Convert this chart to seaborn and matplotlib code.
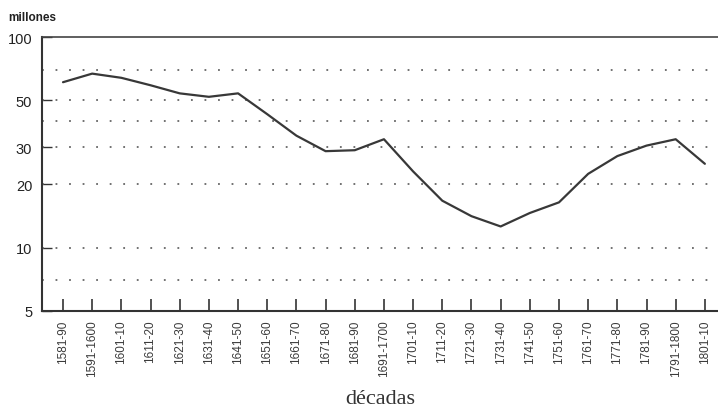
import matplotlib
matplotlib.use("Agg")
import matplotlib.pyplot as plt
import seaborn as sns
import pandas as pd
from matplotlib.ticker import FixedLocator, FixedFormatter, NullLocator

# Population estimate per decade (millions)
decades = [
    "1581-90", "1591-1600", "1601-10", "1611-20", "1621-30", "1631-40",
    "1641-50", "1651-60", "1661-70", "1671-80", "1681-90", "1691-1700",
    "1701-10", "1711-20", "1721-30", "1731-40", "1741-50", "1751-60",
    "1761-70", "1771-80", "1781-90", "1791-1800", "1801-10",
]
population = [
    61, 67, 64, 59, 54, 52,
    54, 43, 34, 28.7, 29, 32.7,
    23, 16.7, 14.1, 12.6, 14.6, 16.4,
    22.4, 27.2, 30.5, 32.7, 25,
]
y_ticks = [5, 10, 20, 30, 50, 100]
grid_levels = [7, 10, 20, 30, 40, 50, 70]

sns.set_theme(style="white")
plt.rcParams["font.family"] = ["Liberation Sans", "DejaVu Sans"]

df = pd.DataFrame({"decada": decades, "millones": population})

W, H = 718, 414
fig = plt.figure(figsize=(W / 100, H / 100), dpi=100)
fig.patch.set_facecolor("white")
left, right, top, bottom = 42, 718, 38, 312
ax = fig.add_axes([left / W, 1 - bottom / H, (right - left) / W, (bottom - top) / H])

sns.lineplot(data=df, x="decada", y="millones", ax=ax, sort=False,
             color="#383838", linewidth=1.6, zorder=3)

ax.set_yscale("log")
ax.set_ylim(5, 100)
ax.yaxis.set_major_locator(FixedLocator(y_ticks))
ax.yaxis.set_major_formatter(FixedFormatter([str(t) for t in y_ticks]))
ax.yaxis.set_minor_locator(NullLocator())

ax.set_xticks(range(len(decades)))
ax.set_xticklabels(decades, rotation=90, va="top", ha="center")
ax.set_xlim(-0.72, len(decades) - 1 + 0.45)

# dotted reference levels
for lvl in grid_levels:
    ax.axhline(lvl, color="#666666", linestyle=(0, (1, 6.5)), linewidth=1.3, zorder=1)

ax.tick_params(axis="x", direction="in", length=9, width=1.2, color="#333333",
               labelsize=8.5, labelcolor="#3a3a3a", pad=6, bottom=True)
ax.tick_params(axis="y", direction="in", length=7, width=1.0, color="#333333",
               labelsize=10.5, labelcolor="#222222", pad=7, left=True)

for side in ("left", "bottom"):
    ax.spines[side].set_linewidth(1.5)
    ax.spines[side].set_color("#333333")
ax.spines["top"].set_linewidth(1.2)
ax.spines["top"].set_color("#444444")
ax.spines["right"].set_visible(False)

ax.set_ylabel("")
ax.set_xlabel("décadas", fontfamily=["Liberation Serif", "DejaVu Serif"],
              fontsize=16, color="#333333", va="top")
ax.xaxis.set_label_coords(0.5, -(390 - bottom) / (bottom - top))

fig.text(8 / W, 1 - 18 / H, "millones", fontsize=8.5, fontweight="bold",
         color="#222222", ha="left", va="center")

fig.savefig("out.png", dpi=100)
